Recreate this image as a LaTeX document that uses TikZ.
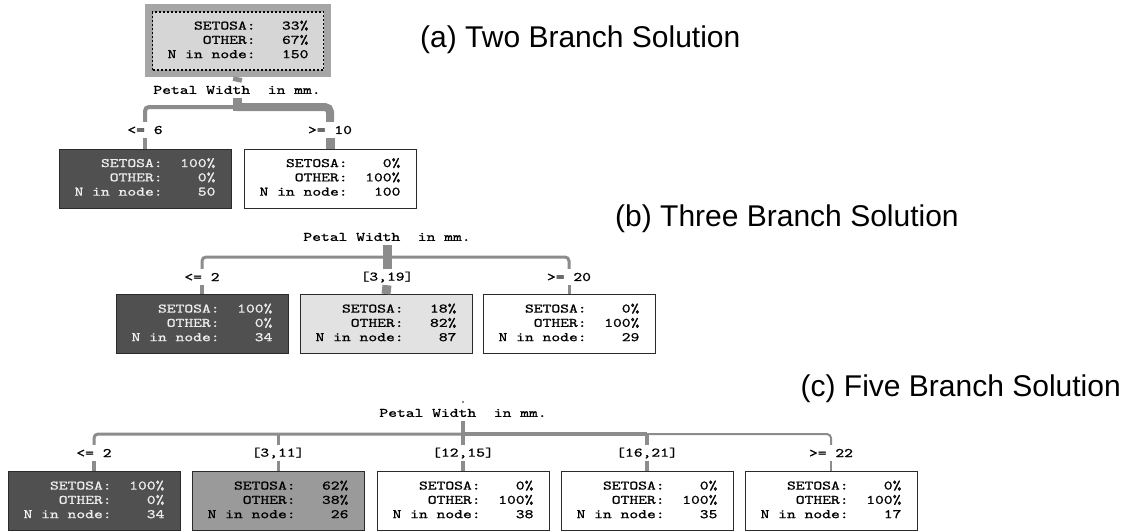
\documentclass[tikz,border=0pt]{standalone}
\usepackage{fontspec}
\usepackage{graphicx}
\newfontfamily\titlefont{Liberation Sans}
\newfontfamily\treefont{lmmono10-regular.otf}[FakeBold=0.9]
\definecolor{linegray}{HTML}{8C8C8C}
\definecolor{darkfill}{HTML}{505050}
\definecolor{midfill}{HTML}{9A9A9A}
\definecolor{lightfill}{HTML}{E2E2E2}
\definecolor{rootframe}{HTML}{A6A6A6}
\definecolor{rootfill}{HTML}{D6D6D6}
\definecolor{lighttext}{HTML}{EEEEEE}
\definecolor{boxborder}{HTML}{2A2A2A}
\newcommand\mt[1]{\scalebox{1.29}[1]{#1}}
\newcommand\trow[2]{\makebox[5.25em][r]{#1}\makebox[1.05em]{}\makebox[2.1em][r]{#2}}
\newcommand\tbox[3]{\mt{\begin{tabular}{@{}c@{}}\trow{SETOSA:}{#1}\\\trow{OTHER:}{#2}\\\trow{N in node:}{#3}\end{tabular}}}
\begin{document}
\begin{tikzpicture}[x=1pt,y=-1pt,
  monofont/.style={font=\treefont\fontsize{13}{14.3}\selectfont},
  leaf/.style={draw=boxborder, line width=1pt, minimum width=172pt, minimum height=59pt, inner sep=0pt, monofont},
  lbl/.style={inner sep=0pt, minimum height=16pt, monofont},
  sectitle/.style={inner sep=0pt, font=\titlefont\fontsize{30}{36}\selectfont},
  conn/.style={draw=linegray}]
\useasboundingbox (0,0) rectangle (1132,531);
\fill[white] (0,0) rectangle (1132,531);

% ---------------- (a) ----------------
\node[fill=rootframe, minimum width=186pt, minimum height=73pt, inner sep=0pt] (rootO) at (238,40.5) {};
\node[fill=rootfill, draw=black, dash pattern=on 2pt off 2pt, line width=1.2pt, minimum width=171pt, minimum height=58pt, inner sep=0pt, monofont] (rootI) at (238,41) {\tbox{33\%}{67\%}{150}};
\node[lbl] (pwa) at (237,90) {\mt{Petal Width\ \ in mm.}};
\coordinate (busA) at (237,107);
\node[lbl] (la1) at (145,130) {\mt{<= 6}};
\node[lbl] (la2) at (330,130) {\mt{>= 10}};
\node[leaf, fill=darkfill, text=lighttext] (A1) at (145,178.5) {\tbox{100\%}{0\%}{50}};
\node[leaf, fill=white] (A2) at (330,178.5) {\tbox{0\%}{100\%}{100}};
\draw[conn, line width=4pt, rounded corners=4pt] (busA) -| (la1.north);
\draw[conn, line width=8pt, rounded corners=5pt] (busA) -| (la2.north);
\draw[conn, line width=9pt] (rootO.south) -- (pwa.north);
\draw[conn, line width=9pt] (pwa.south) -- ([yshift=-4pt]busA);
\draw[conn, line width=4pt] (la1.south) -- (A1.north);
\draw[conn, line width=9pt] (la2.south) -- (A2.north);
\node[sectitle, anchor=west] (ta) at (420,40) {(a) Two Branch Solution};

% ---------------- (b) ----------------
\node[sectitle, anchor=west] (tb) at (615,219) {(b) Three Branch Solution};
\node[lbl] (pwb) at (387,237) {\mt{Petal Width\ \ in mm.}};
\coordinate (busB) at (387,257);
\node[lbl] (lb1) at (202,277) {\mt{<= 2}};
\node[lbl] (lb2) at (387,277) {\mt{[3,19]}};
\node[lbl] (lb3) at (569,277) {\mt{>= 20}};
\node[leaf, fill=darkfill, text=lighttext] (B1) at (202,324) {\tbox{100\%}{0\%}{34}};
\node[leaf, fill=lightfill] (B2) at (386,324) {\tbox{18\%}{82\%}{87}};
\node[leaf, fill=white] (B3) at (569,324) {\tbox{0\%}{100\%}{29}};
\draw[conn, line width=3pt, rounded corners=4pt] (lb1.north) |- (busB) -| (lb3.north);
\draw[conn, line width=9pt] (pwb.south) -- (lb2.north);
\draw[conn, line width=4pt] (lb1.south) -- (B1.north);
\draw[conn, line width=9pt] (lb2.south) -- (B2.north);
\draw[conn, line width=3pt] (lb3.south) -- (B3.north);

% ---------------- (c) ----------------
\node[sectitle, anchor=east] (tc) at (1121,389) {(c) Five Branch Solution};
\coordinate (topc) at (463,401);
\node[lbl] (pwc) at (463,413) {\mt{Petal Width\ \ in mm.}};
\coordinate (busC) at (463,434);
\coordinate (busC2) at (647,434);
\node[lbl] (lc1) at (94,453) {\mt{<= 2}};
\node[lbl] (lc2) at (278,453) {\mt{[3,11]}};
\node[lbl] (lc3) at (463,453) {\mt{[12,15]}};
\node[lbl] (lc4) at (647,453) {\mt{[16,21]}};
\node[lbl] (lc5) at (831,453) {\mt{>= 22}};
\node[leaf, fill=darkfill, text=lighttext] (C1) at (94,501) {\tbox{100\%}{0\%}{34}};
\node[leaf, fill=midfill] (C2) at (278,501) {\tbox{62\%}{38\%}{26}};
\node[leaf, fill=white] (C3) at (463,501) {\tbox{0\%}{100\%}{38}};
\node[leaf, fill=white] (C4) at (647,501) {\tbox{0\%}{100\%}{35}};
\node[leaf, fill=white] (C5) at (831,501) {\tbox{0\%}{100\%}{17}};
\draw[conn, line width=1.5pt] (topc) -- ++(0,1.5);
\draw[conn, line width=3pt, rounded corners=4pt] (lc1.north) |- (busC);
\draw[conn, line width=3.5pt] (busC) -- (busC2);
\draw[conn, line width=2pt, rounded corners=4pt] (busC2) -| (lc5.north);
\draw[conn, line width=3pt] (lc2.north) -- (lc2.north |- busC);
\draw[conn, line width=4pt] (lc4.north) -- (lc4.north |- busC);
\draw[conn, line width=4pt] (pwc.south) -- (lc3.north);
\draw[conn, line width=4pt] (lc1.south) -- (C1.north);
\draw[conn, line width=3pt] (lc2.south) -- (C2.north);
\draw[conn, line width=4pt] (lc3.south) -- (C3.north);
\draw[conn, line width=4pt] (lc4.south) -- (C4.north);
\draw[conn, line width=2pt] (lc5.south) -- (C5.north);
\end{tikzpicture}
\end{document}
